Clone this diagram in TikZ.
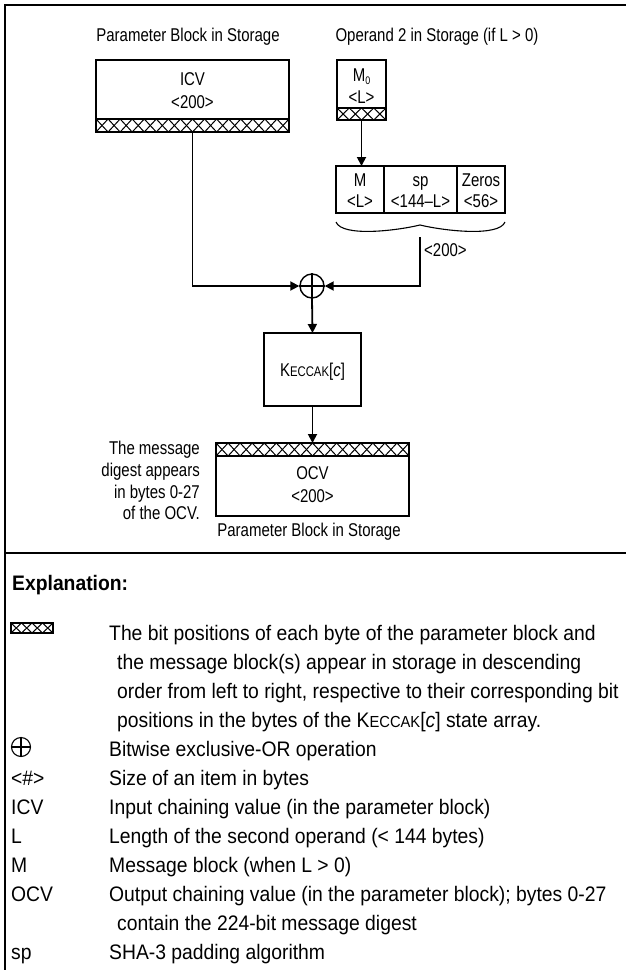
\documentclass[tikz,border=0pt]{standalone}
\usepackage{fontspec}
\setmainfont{Liberation Sans}
\newfontfamily\dfont{Liberation Sans}[FakeStretch=0.81]
\newfontfamily\lfont{Liberation Sans}[FakeStretch=0.92]
\usetikzlibrary{arrows.meta,calc}
\newcommand\myhatch[5]{%
  \pgfmathsetmacro\hw{(#3-#1)/#5}%
  \foreach \i in {1,...,#5}{%
    \draw[hatchline] ({#1+(\i-1)*\hw},#2) -- ({#1+\i*\hw},#4);
    \draw[hatchline] ({#1+(\i-1)*\hw},#4) -- ({#1+\i*\hw},#2);
  }%
}
\newcommand\kec[2]{#1K{\fontsize{#2}{#2}\selectfont ECCAK}[\textit{c}]}
\begin{document}
\begin{tikzpicture}[x=1pt,y=-1pt,
  frame/.style={line width=2.6pt},
  boxline/.style={line width=1.9pt},
  hatchline/.style={line width=1pt},
  box/.style={draw,line width=1.9pt,inner sep=0pt,outer sep=0pt,anchor=north west},
  conn/.style={line width=1.8pt,-{Triangle[length=9pt,width=9pt]}},
  dtext/.style={inner sep=0pt,anchor=base,font=\dfont\fontsize{18.5}{22}\selectfont},
  ltext/.style={inner sep=0pt,anchor=base west,font=\lfont\fontsize{21}{29}\selectfont},
]
\useasboundingbox (0,0) rectangle (626,970);
% frame
\draw[frame] (5,972) -- (5,5) -- (628,5);
\draw[frame] (5,553) -- (628,553);

% titles
\node[dtext] (t1) at (188,41) {Parameter Block in Storage};
\node[dtext] (t2) at (437,41) {Operand 2 in Storage (if L > 0)};

% ICV box
\node[box,minimum width=193pt,minimum height=72pt] (icv) at (96,60) {};
\myhatch{96}{119}{289}{132}{16}
\draw[boxline] (96,119) -- (289,119);
\node[dtext] (icvt) at (192.5,85) {ICV};
\node[dtext] (icvs) at (192.5,108) {<200>};

% M0 box
\node[box,minimum width=49pt,minimum height=60pt] (m0) at (337,60) {};
\myhatch{337}{108}{386}{120}{4}
\draw[boxline] (337,108) -- (386,108);
\node[dtext] (m0t) at (361.5,81) {M\raisebox{-3pt}{\fontsize{11}{11}\selectfont 0}};
\node[dtext] (m0s) at (361.5,103) {<L>};

% M / sp / Zeros
\node[box,minimum width=48pt,minimum height=47pt] (mb) at (336,166) {};
\node[box,minimum width=73pt,minimum height=47pt] (spb) at (384,166) {};
\node[box,minimum width=48pt,minimum height=47pt] (zb) at (457,166) {};
\node[dtext] (mbt) at (360,186) {M};
\node[dtext] (mbs) at (360,207) {<L>};
\node[dtext] (spt) at (420.5,186) {sp};
\node[dtext] (sps) at (420.5,207) {<144–L>};
\node[dtext] (zt) at (481,186) {Zeros};
\node[dtext] (zs) at (481,207) {<56>};

% brace
\coordinate (bl) at (336,222);
\coordinate (bm) at (420,225);
\coordinate (br) at (505,222);
\draw[line width=1.1pt] (bl) .. controls (342,237) and (395,231) .. (bm)
  .. controls (445,231) and (499,237) .. (br);
\coordinate (bt) at (420,237);
\node[dtext,anchor=base west] (b200) at (424,256) {<200>};

% xor
\node[circle,draw,line width=1.4pt,minimum size=24pt,inner sep=0pt] (xor) at (312,286) {};
\draw[line width=1.4pt] (xor.north) -- (xor.south) (xor.west) -- (xor.east);

% Keccak box
\node[box,minimum width=97pt,minimum height=73pt] (kbox) at (264,333) {};
\node[dtext] (kt) at (312.5,376) {\kec{}{14}};

% OCV box
\node[box,minimum width=193pt,minimum height=73pt] (ocv) at (216,443) {};
\myhatch{216}{443}{409}{456}{16}
\draw[boxline] (216,456) -- (409,456);
\node[dtext] (ocvt) at (312.5,479) {OCV};
\node[dtext] (ocvs) at (312.5,502) {<200>};
\node[dtext] (cap) at (309,536) {Parameter Block in Storage};
\node[dtext,anchor=base east] (n1) at (200,454) {The message};
\node[dtext,anchor=base east] (n2) at (200,476) {digest appears};
\node[dtext,anchor=base east] (n3) at (200,498) {in bytes 0-27};
\node[dtext,anchor=base east] (n4) at (200,519) {of the OCV.};

% connectors
\draw[conn] (m0.south) -- (m0.south |- mb.north);
\draw[conn] (icv.south) |- (xor.west);
\draw[conn] (bt) |- (xor.east);
\draw[conn] (xor.south) -- (kbox.north);
\draw[conn] (kbox.south) -- (ocv.north);

% Explanation
\node[ltext,font=\lfont\bfseries\fontsize{21}{29}\selectfont] (expl) at (12,590) {Explanation:};
\myhatch{11}{623}{53}{633}{4}
\draw[line width=1.3pt] (11,623) rectangle (53,633);
\node[ltext] (e1a) at (109,640) {The bit positions of each byte of the parameter block and};
\node[ltext] (e1b) at (117,669) {the message block(s) appear in storage in descending};
\node[ltext] (e1c) at (117,698) {order from left to right, respective to their corresponding bit};
\node[ltext] (e1d) at (117,727) {positions in the bytes of the \kec{}{16} state array.};
\node[circle,draw,line width=1.1pt,minimum size=19pt,inner sep=0pt] (lx) at (21,747) {};
\draw[line width=1.1pt] (lx.north) -- (lx.south) (lx.west) -- (lx.east);
\node[ltext] (e2) at (109,756) {Bitwise exclusive-OR operation};
\node[ltext] (k3) at (11,785) {<\#>};
\node[ltext] (e3) at (109,785) {Size of an item in bytes};
\node[ltext] (k4) at (11,814) {ICV};
\node[ltext] (e4) at (109,814) {Input chaining value (in the parameter block)};
\node[ltext] (k5) at (11,843) {L};
\node[ltext] (e5) at (109,843) {Length of the second operand (< 144 bytes)};
\node[ltext] (k6) at (11,872) {M};
\node[ltext] (e6) at (109,872) {Message block (when L > 0)};
\node[ltext] (k7) at (11,901) {OCV};
\node[ltext] (e7) at (109,901) {Output chaining value (in the parameter block); bytes 0-27};
\node[ltext] (e7b) at (117,930) {contain the 224-bit message digest};
\node[ltext] (k8) at (11,959) {sp};
\node[ltext] (e8) at (109,959) {SHA-3 padding algorithm};
\end{tikzpicture}
\end{document}
